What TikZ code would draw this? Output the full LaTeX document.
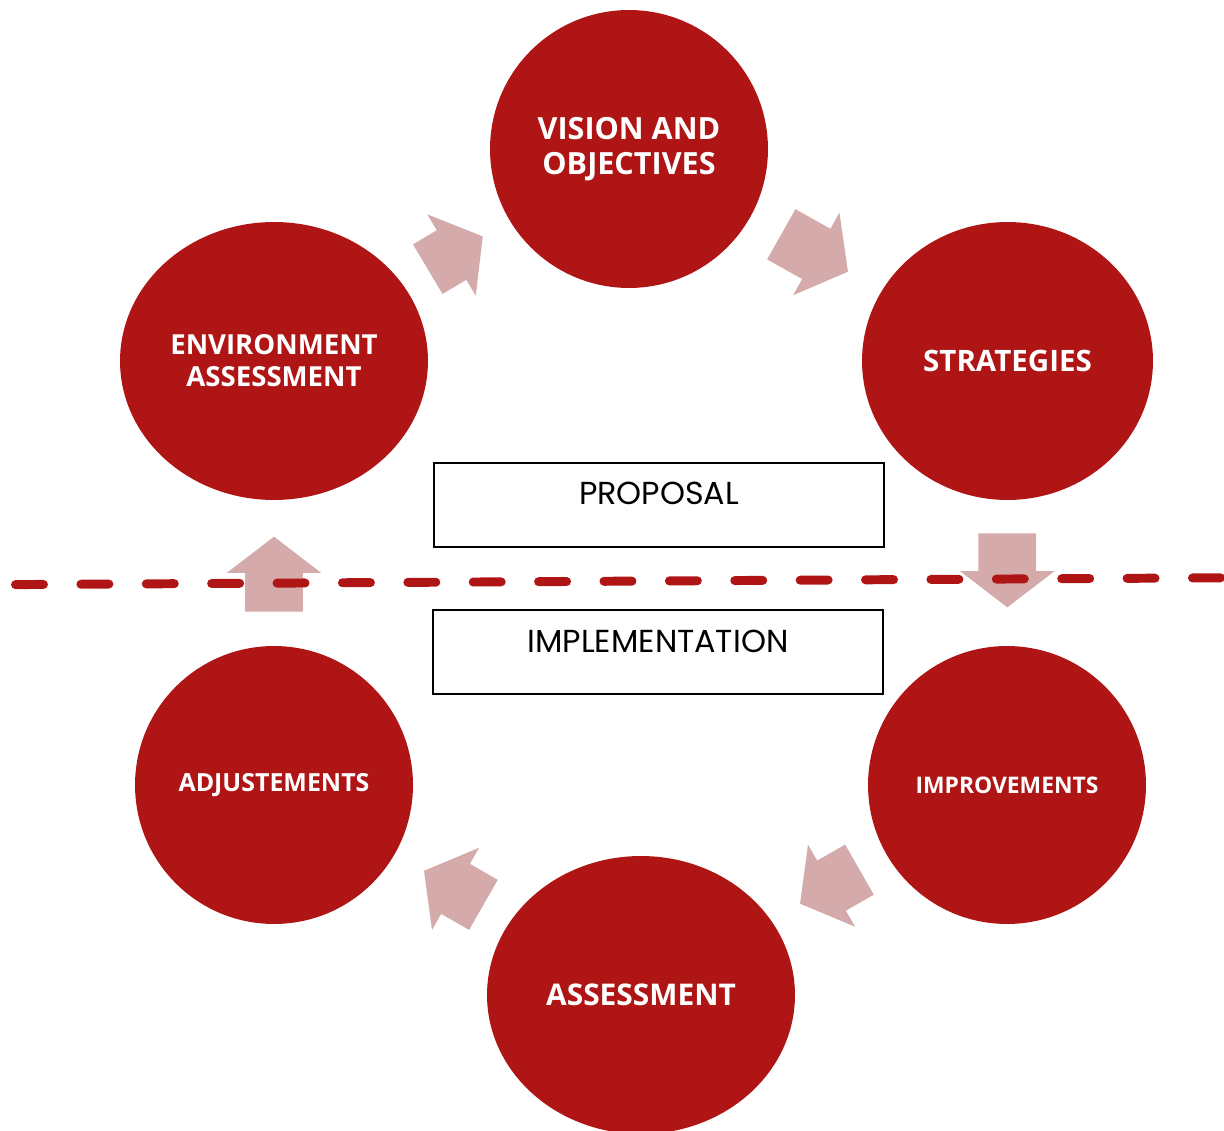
\documentclass[tikz,border=0pt]{standalone}
\usepackage{fontspec}
\setmainfont{Poppins}
\newfontfamily\stagefont{Open Sans}
\usetikzlibrary{shapes.geometric, shapes.arrows, calc}
\definecolor{stagered}{RGB}{175,21,21}
\definecolor{flowpink}{RGB}{212,170,171}

\begin{document}
\begin{tikzpicture}[
  x=0.02cm, y=-0.02cm,
  stage/.style 2 args={ellipse, fill=stagered, inner sep=0pt, text=white,
                       align=center, minimum height=5.56cm,
                       font=\stagefont\bfseries\fontsize{#1}{#2}\selectfont},
  phase/.style={rectangle, draw=black, line width=0.9pt, minimum width=9cm,
                minimum height=1.68cm, inner sep=0pt,
                font=\fontsize{18.1}{20}\selectfont,
                text height=0.44cm, text depth=0.44cm},
  flow/.style={single arrow, fill=flowpink, inner xsep=0pt, inner ysep=0.57cm,
               anchor=tail, minimum width=1.88cm, minimum height=#1,
               single arrow head extend=0.37cm, single arrow tip angle=105},
  divider/.style={stagered, line width=5.1pt, line cap=round,
                  dash pattern=on 0.56cm off 0.748cm}
]
  \useasboundingbox (0,0) rectangle (1224,1131);

  % the six stages of the cycle
  \node[stage={17.4}{20}, minimum width=5.56cm] (vision) at (629,149) {VISION AND\\OBJECTIVES};
  \node[stage={15.7}{18.2}, minimum width=6.16cm] (env)  at (274,361) {ENVIRONMENT\\ASSESSMENT};
  \node[stage={16.8}{19}, minimum width=5.82cm] (strat)  at (1007.5,361) {STRATEGIES};
  \node[stage={13}{15},   minimum width=5.56cm] (improv) at (1007,785) {IMPROVEMENTS};
  \node[stage={17}{20},   minimum width=6.16cm] (assess) at (641,995) {ASSESSMENT};
  \node[stage={14.2}{17}, minimum width=5.56cm] (adjust) at (274,785) {ADJUSTEMENTS};

  % block arrows halfway between the stages
  \coordinate (m1) at ($(env)!0.5!(vision)$);
  \coordinate (m2) at ($(vision)!0.5!(strat)$);
  \coordinate (m3) at ($(strat)!0.5!(improv)$);
  \coordinate (m4) at ($(improv)!0.5!(assess)$);
  \coordinate (m5) at ($(assess)!0.5!(adjust)$);
  \coordinate (m6) at ($(adjust)!0.5!(env)$);
  \node[flow=1.28cm, rotate=30.8]  (a1) at ($(m1)!-0.56cm!(vision)$) {};
  \node[flow=1.53cm, rotate=-29.3] (a2) at ($(m2)!-0.855cm!(strat)$) {};
  \node[flow=1.48cm, rotate=-90]   (a3) at ($(m3)!-0.8cm!(improv)$) {};
  \node[flow=1.37cm, rotate=209.8] (a4) at ($(m4)!-0.825cm!(assess)$) {};
  \node[flow=1.37cm, rotate=150.2] (a5) at ($(m5)!-0.605cm!(adjust)$) {};
  \node[flow=1.5cm,  rotate=90]    (a6) at ($(m6)!-0.78cm!(env)$) {};

  % the two phases
  \node[phase] (proposal) at (659,505) {PROPOSAL};
  \node[phase] (impl)     at (658,652) {IMPLEMENTATION};

  \draw[divider] (15.5,584.6) -- (1240,577.7);
\end{tikzpicture}
\end{document}
